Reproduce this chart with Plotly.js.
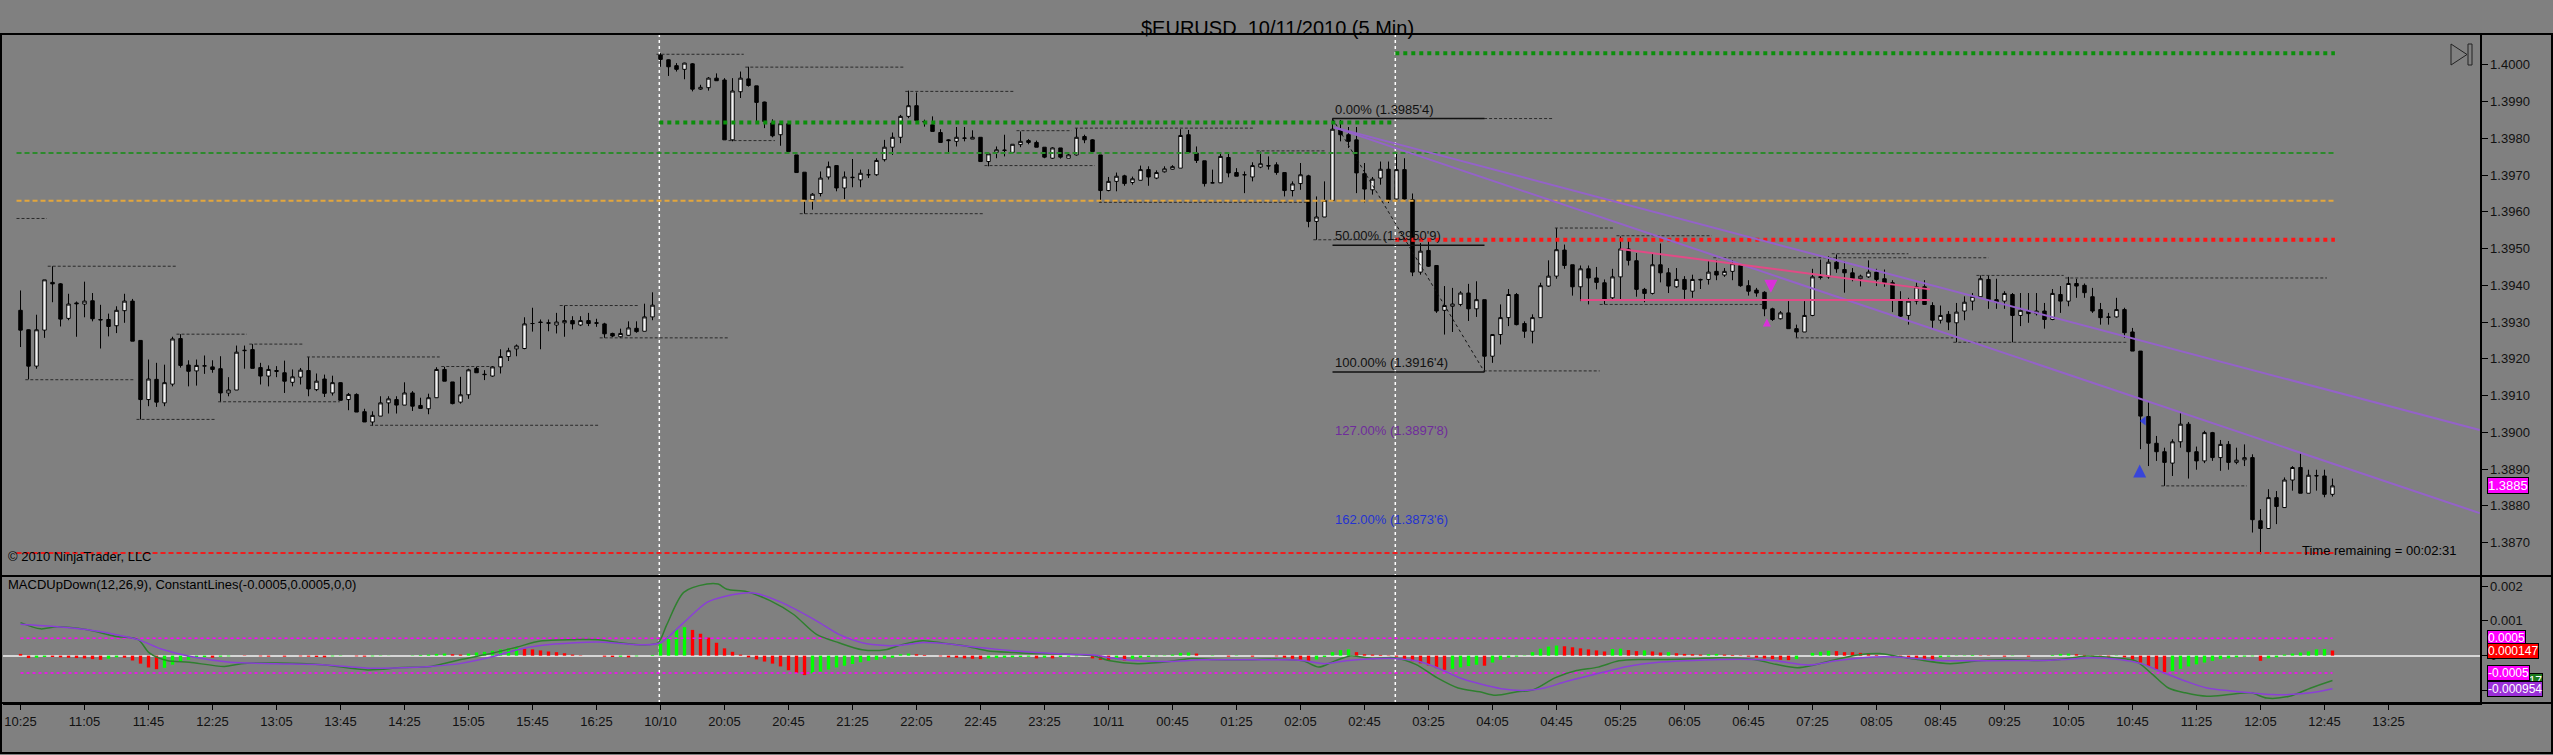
<!DOCTYPE html>
<html>
<head>
<meta charset="utf-8">
<script src="https://cdn.plot.ly/plotly-3.0.1.min.js"></script>
<style>
  html, body { margin: 0; padding: 0; background: #808080; }
  #chart { width: 2553px; height: 755px; }
</style>
</head>
<body>
<div id="chart"></div>
<script>
// EURUSD 5 min bars, bar 0 = 10/8 10:25, bar 80 = first bar of the 10/10 session
const opens = [
  1.39332,1.39279,1.39180,1.39278,1.39408,1.39404,1.39310,1.39352,1.39349,1.39358,
  1.39307,1.39307,1.39290,1.39331,1.39357,1.39250,1.39089,1.39144,1.39080,1.39131,
  1.39255,1.39183,1.39167,1.39180,1.39178,1.39173,1.39107,1.39115,1.39222,1.39225,
  1.39176,1.39153,1.39168,1.39162,1.39136,1.39150,1.39168,1.39116,1.39145,1.39107,
  1.39135,1.39089,1.39103,1.39056,1.39028,1.39044,1.39080,1.39089,1.39074,1.39107,
  1.39073,1.39064,1.39094,1.39171,1.39137,1.39082,1.39102,1.39174,1.39158,1.39153,
  1.39178,1.39206,1.39227,1.39228,1.39296,1.39300,1.39298,1.39292,1.39298,1.39304,
  1.39292,1.39304,1.39298,1.39295,1.39269,1.39260,1.39264,1.39283,1.39275,1.39314,
  1.40027,1.40014,1.39998,1.39988,1.40003,1.39934,1.39938,1.39964,1.39959,1.39796,
  1.39927,1.39962,1.39943,1.39899,1.39842,1.39810,1.39840,1.39755,1.39708,1.39633,
  1.39650,1.39695,1.39726,1.39665,1.39693,1.39687,1.39701,1.39701,1.39742,1.39776,
  1.39803,1.39860,1.39889,1.39846,1.39837,1.39816,1.39796,1.39792,1.39800,1.39798,
  1.39803,1.39737,1.39762,1.39767,1.39762,1.39783,1.39794,1.39789,1.39776,1.39746,
  1.39774,1.39746,1.39755,1.39805,1.39796,1.39755,1.39658,1.39683,1.39698,1.39680,
  1.39686,1.39715,1.39692,1.39709,1.39716,1.39719,1.39810,1.39760,1.39739,1.39679,
  1.39679,1.39748,1.39707,1.39701,1.39695,1.39722,1.39726,1.39728,1.39707,1.39658,
  1.39677,1.39698,1.39574,1.39586,1.39631,1.39823,1.39810,1.39796,1.39704,1.39660,
  1.39692,1.39716,1.39635,1.39715,1.39633,1.39436,1.39495,1.39454,1.39332,1.39343,
  1.39348,1.39379,1.39336,1.39361,1.39207,1.39266,1.39312,1.39375,1.39296,1.39275,
  1.39312,1.39398,1.39425,1.39496,1.39456,1.39396,1.39445,1.39420,1.39407,1.39366,
  1.39423,1.39499,1.39467,1.39389,1.39378,1.39456,1.39434,1.39396,1.39416,1.39384,
  1.39416,1.39416,1.39438,1.39428,1.39438,1.39454,1.39399,1.39387,1.39381,1.39336,
  1.39309,1.39325,1.39282,1.39273,1.39318,1.39423,1.39423,1.39463,1.39443,1.39434,
  1.39418,1.39423,1.39436,1.39418,1.39407,1.39360,1.39318,1.39357,1.39396,1.39345,
  1.39305,1.39321,1.39298,1.39330,1.39357,1.39369,1.39416,1.39361,1.39357,1.39375,
  1.39318,1.39330,1.39323,1.39330,1.39307,1.39375,1.39357,1.39405,1.39400,1.39369,
  1.39334,1.39314,1.39314,1.39334,1.39273,1.39221,1.39043,1.38970,1.38947,1.38916,
  1.38974,1.39022,1.38947,1.38922,1.38999,1.38931,1.38967,1.38918,1.38925,1.38931,
  1.38759,1.38738,1.38822,1.38795,1.38870,1.38904,1.38834,1.38881,1.38881,1.38831
];
const highs = [
  1.39386,1.39280,1.39320,1.39415,1.39452,1.39406,1.39377,1.39356,1.39410,1.39379,
  1.39347,1.39323,1.39343,1.39377,1.39363,1.39250,1.39198,1.39189,1.39184,1.39260,
  1.39267,1.39196,1.39198,1.39209,1.39196,1.39207,1.39150,1.39236,1.39236,1.39240,
  1.39189,1.39182,1.39180,1.39195,1.39171,1.39175,1.39205,1.39160,1.39157,1.39154,
  1.39136,1.39107,1.39106,1.39064,1.39057,1.39098,1.39098,1.39098,1.39136,1.39112,
  1.39094,1.39105,1.39177,1.39178,1.39137,1.39151,1.39173,1.39178,1.39169,1.39180,
  1.39226,1.39230,1.39239,1.39313,1.39339,1.39307,1.39307,1.39325,1.39345,1.39316,
  1.39316,1.39325,1.39309,1.39298,1.39271,1.39282,1.39302,1.39302,1.39350,1.39381,
  1.40032,1.40015,1.40005,1.40006,1.40005,1.39946,1.39967,1.39977,1.39964,1.39964,
  1.39982,1.39995,1.39943,1.39900,1.39852,1.39842,1.39843,1.39755,1.39708,1.39651,
  1.39710,1.39737,1.39726,1.39710,1.39744,1.39715,1.39716,1.39746,1.39796,1.39816,
  1.39864,1.39930,1.39925,1.39851,1.39860,1.39825,1.39798,1.39831,1.39831,1.39822,
  1.39803,1.39760,1.39778,1.39810,1.39784,1.39819,1.39798,1.39794,1.39776,1.39776,
  1.39774,1.39758,1.39828,1.39810,1.39798,1.39755,1.39695,1.39707,1.39701,1.39696,
  1.39726,1.39724,1.39713,1.39724,1.39727,1.39825,1.39823,1.39778,1.39739,1.39715,
  1.39758,1.39760,1.39719,1.39710,1.39735,1.39764,1.39751,1.39735,1.39707,1.39683,
  1.39733,1.39701,1.39642,1.39683,1.39854,1.39850,1.39831,1.39831,1.39733,1.39695,
  1.39737,1.39737,1.39760,1.39746,1.39650,1.39515,1.39520,1.39454,1.39398,1.39393,
  1.39384,1.39404,1.39411,1.39361,1.39266,1.39348,1.39390,1.39379,1.39302,1.39321,
  1.39407,1.39468,1.39556,1.39511,1.39456,1.39454,1.39454,1.39450,1.39416,1.39445,
  1.39533,1.39526,1.39488,1.39393,1.39488,1.39514,1.39447,1.39447,1.39425,1.39429,
  1.39418,1.39468,1.39468,1.39447,1.39468,1.39454,1.39414,1.39393,1.39384,1.39339,
  1.39330,1.39357,1.39293,1.39357,1.39445,1.39470,1.39479,1.39484,1.39466,1.39447,
  1.39429,1.39468,1.39445,1.39443,1.39414,1.39384,1.39366,1.39407,1.39414,1.39354,
  1.39345,1.39330,1.39352,1.39370,1.39379,1.39427,1.39427,1.39418,1.39384,1.39379,
  1.39379,1.39379,1.39379,1.39352,1.39390,1.39398,1.39423,1.39418,1.39405,1.39393,
  1.39352,1.39325,1.39366,1.39339,1.39284,1.39221,1.39085,1.38990,1.38958,1.38981,
  1.39053,1.39028,1.38961,1.39004,1.39001,1.38979,1.38976,1.38958,1.38967,1.38940,
  1.38791,1.38845,1.38840,1.38877,1.38908,1.38946,1.38898,1.38898,1.38898,1.38874
];
const lows = [
  1.39232,1.39144,1.39173,1.39257,1.39354,1.39288,1.39305,1.39260,1.39313,1.39302,
  1.39228,1.39261,1.39270,1.39298,1.39248,1.39035,1.39071,1.39069,1.39071,1.39125,
  1.39176,1.39125,1.39127,1.39159,1.39162,1.39082,1.39098,1.39115,1.39173,1.39174,
  1.39130,1.39125,1.39150,1.39107,1.39125,1.39130,1.39098,1.39112,1.39096,1.39100,
  1.39087,1.39060,1.39055,1.39028,1.39017,1.39044,1.39051,1.39051,1.39074,1.39058,
  1.39065,1.39049,1.39094,1.39139,1.39076,1.39078,1.39091,1.39162,1.39142,1.39151,
  1.39160,1.39194,1.39207,1.39226,1.39274,1.39226,1.39275,1.39269,1.39260,1.39280,
  1.39289,1.39289,1.39287,1.39257,1.39259,1.39257,1.39263,1.39271,1.39275,1.39305,
  1.39995,1.39970,1.39982,1.39961,1.39928,1.39932,1.39930,1.39957,1.39796,1.39792,
  1.39910,1.39941,1.39846,1.39828,1.39803,1.39780,1.39764,1.39707,1.39595,1.39606,
  1.39642,1.39688,1.39656,1.39635,1.39667,1.39667,1.39692,1.39698,1.39737,1.39755,
  1.39787,1.39855,1.39849,1.39832,1.39819,1.39789,1.39762,1.39778,1.39792,1.39798,
  1.39737,1.39724,1.39746,1.39751,1.39760,1.39776,1.39784,1.39776,1.39746,1.39744,
  1.39745,1.39746,1.39753,1.39787,1.39764,1.39626,1.39656,1.39656,1.39671,1.39674,
  1.39686,1.39671,1.39689,1.39707,1.39715,1.39719,1.39758,1.39733,1.39669,1.39678,
  1.39679,1.39694,1.39697,1.39651,1.39683,1.39719,1.39715,1.39701,1.39642,1.39642,
  1.39660,1.39558,1.39524,1.39586,1.39631,1.39792,1.39774,1.39651,1.39626,1.39647,
  1.39674,1.39624,1.39633,1.39633,1.39425,1.39429,1.39450,1.39325,1.39266,1.39273,
  1.39343,1.39303,1.39314,1.39164,1.39189,1.39239,1.39289,1.39291,1.39257,1.39242,
  1.39312,1.39396,1.39418,1.39445,1.39372,1.39357,1.39348,1.39389,1.39348,1.39361,
  1.39361,1.39454,1.39369,1.39354,1.39375,1.39408,1.39379,1.39393,1.39363,1.39366,
  1.39390,1.39402,1.39414,1.39423,1.39414,1.39396,1.39372,1.39369,1.39316,1.39303,
  1.39307,1.39282,1.39257,1.39273,1.39316,1.39416,1.39418,1.39434,1.39380,1.39411,
  1.39397,1.39420,1.39398,1.39396,1.39327,1.39314,1.39293,1.39348,1.39348,1.39284,
  1.39296,1.39278,1.39245,1.39305,1.39332,1.39369,1.39336,1.39336,1.39336,1.39245,
  1.39289,1.39298,1.39318,1.39282,1.39305,1.39325,1.39343,1.39366,1.39366,1.39325,
  1.39293,1.39293,1.39312,1.39257,1.39221,1.38954,1.38908,1.38922,1.38854,1.38881,
  1.38958,1.38874,1.38898,1.38916,1.38922,1.38895,1.38898,1.38913,1.38908,1.38727,
  1.38668,1.38738,1.38750,1.38795,1.38841,1.38834,1.38834,1.38841,1.38823,1.38825
];
const closes = [
  1.39278,1.39180,1.39279,1.39415,1.39404,1.39308,1.39349,1.39350,1.39357,1.39309,
  1.39306,1.39288,1.39332,1.39357,1.39248,1.39089,1.39145,1.39082,1.39135,1.39254,
  1.39182,1.39166,1.39182,1.39181,1.39171,1.39107,1.39115,1.39218,1.39223,1.39174,
  1.39153,1.39171,1.39166,1.39139,1.39151,1.39169,1.39118,1.39139,1.39106,1.39135,
  1.39087,1.39103,1.39055,1.39028,1.39046,1.39080,1.39091,1.39074,1.39107,1.39071,
  1.39065,1.39094,1.39171,1.39139,1.39078,1.39102,1.39170,1.39162,1.39157,1.39178,
  1.39206,1.39222,1.39235,1.39295,1.39296,1.39299,1.39297,1.39300,1.39304,1.39295,
  1.39304,1.39296,1.39297,1.39268,1.39262,1.39269,1.39284,1.39274,1.39314,1.39346,
  1.40015,1.39995,1.39988,1.40005,1.39934,1.39939,1.39964,1.39957,1.39796,1.39929,
  1.39964,1.39944,1.39898,1.39846,1.39807,1.39840,1.39764,1.39707,1.39633,1.39648,
  1.39692,1.39723,1.39665,1.39695,1.39694,1.39705,1.39701,1.39740,1.39776,1.39803,
  1.39860,1.39889,1.39849,1.39845,1.39819,1.39789,1.39794,1.39803,1.39801,1.39803,
  1.39737,1.39758,1.39769,1.39768,1.39784,1.39792,1.39789,1.39776,1.39749,1.39774,
  1.39749,1.39755,1.39803,1.39796,1.39764,1.39658,1.39683,1.39697,1.39677,1.39690,
  1.39715,1.39695,1.39707,1.39717,1.39723,1.39808,1.39762,1.39740,1.39677,1.39679,
  1.39751,1.39706,1.39697,1.39701,1.39726,1.39731,1.39725,1.39707,1.39658,1.39676,
  1.39701,1.39574,1.39586,1.39631,1.39825,1.39810,1.39792,1.39706,1.39662,1.39689,
  1.39716,1.39633,1.39715,1.39635,1.39436,1.39493,1.39452,1.39330,1.39345,1.39349,
  1.39379,1.39336,1.39361,1.39207,1.39266,1.39312,1.39375,1.39293,1.39275,1.39312,
  1.39399,1.39425,1.39497,1.39454,1.39396,1.39445,1.39420,1.39408,1.39361,1.39423,
  1.39499,1.39468,1.39389,1.39378,1.39456,1.39434,1.39398,1.39416,1.39389,1.39416,
  1.39415,1.39436,1.39428,1.39438,1.39459,1.39399,1.39384,1.39379,1.39336,1.39307,
  1.39325,1.39282,1.39273,1.39318,1.39423,1.39422,1.39463,1.39445,1.39434,1.39418,
  1.39425,1.39436,1.39416,1.39407,1.39360,1.39316,1.39357,1.39396,1.39348,1.39305,
  1.39318,1.39300,1.39327,1.39354,1.39370,1.39418,1.39361,1.39354,1.39378,1.39318,
  1.39332,1.39323,1.39330,1.39307,1.39378,1.39357,1.39405,1.39398,1.39380,1.39330,
  1.39312,1.39313,1.39334,1.39271,1.39221,1.39044,1.38970,1.38947,1.38918,1.38974,
  1.39022,1.38947,1.38922,1.38999,1.38931,1.38967,1.38918,1.38924,1.38931,1.38762,
  1.38738,1.38822,1.38798,1.38870,1.38904,1.38834,1.38883,1.38882,1.38831,1.38854
];

// MACD histogram (MACD - avg), one value per bar
const macdHist = [
  0.00005,-0.00007,-0.00006,-0.00004,-0.00004,-0.00005,-0.00006,-0.00007,-0.00008,-0.00010,
  -0.00012,-0.00009,-0.00005,-0.00006,-0.00014,-0.00023,-0.00034,-0.00039,-0.00035,-0.00026,
  -0.00018,-0.00012,-0.00007,-0.00004,-0.00006,-0.00003,-0.00002,0,-0.00001,0,
  -0.00002,-0.00003,0,-0.00003,0,-0.00002,-0.00003,-0.00004,-0.00005,-0.00002,
  -0.00001,0,-0.00002,-0.00003,-0.00002,-0.00001,-0.000005,0,0,0.00001,
  0.00002,0.00003,0.00005,0.00006,0.00004,0.00003,0.00006,0.00009,0.00011,0.00014,
  0.00018,0.00021,0.00022,0.00020,0.00018,0.00015,0.00012,0.00010,0.00007,0.00003,
  0.00001,0,0,-0.00003,-0.00004,-0.00003,-0.00005,-0.00002,0,0.00002,
  0.00035,0.00056,0.00075,0.00082,0.00074,0.00063,0.00052,0.00037,0.00021,0.00011,
  0.00003,-0.00005,-0.00011,-0.00017,-0.00023,-0.00031,-0.00042,-0.00050,-0.00056,-0.00051,
  -0.00046,-0.00040,-0.00034,-0.00029,-0.00024,-0.00019,-0.00015,-0.00012,-0.00009,-0.00006,
  0.00004,0.00006,0.00004,0.00002,0,-0.00002,-0.00005,-0.00006,-0.00008,-0.00009,
  -0.00010,-0.00008,-0.00007,-0.00006,-0.00005,-0.00004,-0.00003,-0.00008,-0.00006,-0.00008,
  -0.00004,-0.00003,-0.00002,-0.00001,-0.00008,-0.00012,-0.00015,-0.00011,-0.00014,-0.00009,
  -0.00006,-0.00004,-0.00002,0.00001,0.00003,0.00008,0.00009,0.00006,0,0.00001,
  0,-0.00003,0.00001,0,-0.00003,0,0,-0.00002,-0.00006,-0.00009,
  -0.00012,-0.00015,-0.00011,-0.00004,0.00010,0.00016,0.00018,0.00010,0.00004,0.00003,
  0.00002,0.00001,-0.00003,-0.00010,-0.00016,-0.00022,-0.00028,-0.00036,-0.00041,-0.00038,
  -0.00034,-0.00030,-0.00026,-0.00029,-0.00020,-0.00012,-0.00006,-0.00003,-0.00001,0.00010,
  0.00020,0.00026,0.00029,0.00027,0.00024,0.00021,0.00018,0.00015,0.00012,0.00019,
  0.00020,0.00016,0.00013,0.00015,0.00012,0.00009,0.00010,0.00007,0.00005,0.00004,
  0.00003,0.00004,0.00005,0.00003,0.00002,0.00001,-0.00003,-0.00006,-0.00008,-0.00010,
  -0.00012,-0.00013,-0.00010,0,0.00008,0.00011,0.00014,0.00013,0.00010,0.00010,
  0.00008,0.00005,0.00002,0,-0.00003,-0.00005,-0.00008,-0.00010,-0.00011,-0.00013,
  -0.00005,-0.00003,-0.00001,0.00001,0.00002,0.00001,-0.00001,0,-0.00003,-0.00001,
  0,-0.00003,0,0,0.00002,0.00005,0.00006,0.00004,0.00002,0.00001,
  -0.00001,-0.00003,-0.00001,-0.00005,-0.00012,-0.00020,-0.00030,-0.00040,-0.00048,-0.00044,
  -0.00038,-0.00031,-0.00025,-0.00020,-0.00015,-0.00010,-0.00008,-0.00005,-0.00003,-0.00002,
  -0.00015,-0.00008,-0.00005,0.00003,0.00006,0.00009,0.00012,0.00018,0.00019,0.000147
];

// MACD line, read at these bar positions
const macdBars = [0,2.5,4.6,8.2,11.8,14.7,16.1,18.3,21.1,25.5,27.6,32,37.7,43.4,47.7,51.3,54.9,59.2,62.1,65,
  69.3,72.2,75,77.9,79.7,80.8,82.9,85.8,87.2,88.3,90.8,93.7,96.6,99.5,102.3,105.2,108.1,110.1,112.8,115.4,
  118.1,120.8,124.1,127.5,130.9,134.2,136.2,139.6,143.6,146.3,148.9,152.9,157,160.3,162.3,164.3,166.3,169,171.7,174.4,
  177.1,179.7,182.4,184.4,187.1,189.1,191.8,194.5,197.2,199.8,202.5,205.9,209.2,212.4,216.7,219.4,222.1,224.2,226.9,229.6,
  232.4,234.4,237.1,241.2,244.7,248.1,252.2,254.9,258.3,261.7,264.4,266.5,268.5,270.6,273.3,276.1,278.8,280.8,283.6,286.3,289];
const macdLine = [0.00095,0.00077,0.00083,0.00075,0.00056,0.00046,0.00008,-0.00014,-0.00019,-0.00031,
  -0.00023,-0.00021,-0.00026,-0.00041,-0.00034,-0.00031,-0.00012,0.00008,0.00025,0.00042,
  0.00046,0.00046,0.00037,0.00031,0.00037,0.00090,0.00182,0.00206,0.00206,0.00191,
  0.00184,0.00158,0.00119,0.00061,0.00037,0.00017,0.00017,0.00031,0.00043,0.00036,
  0.00028,0.00014,0.00009,0.00006,0.00004,-0.00001,-0.00015,-0.00023,-0.00017,-0.00008,
  -0.00011,-0.00012,-0.00010,-0.00015,-0.00033,-0.00015,-0.00001,-0.00008,-0.00006,-0.00025,
  -0.00064,-0.00093,-0.00104,-0.00114,-0.00104,-0.00098,-0.00064,-0.00043,-0.00033,-0.00015,
  -0.00011,-0.00011,-0.00009,-0.00006,-0.00011,-0.00025,-0.00035,-0.00027,-0.00011,0.00002,
  0.00006,-0.00001,-0.00011,-0.00023,-0.00015,-0.00011,-0.00014,-0.00011,-0.00001,-0.00006,
  -0.00015,-0.00054,-0.00093,-0.00107,-0.00117,-0.00112,-0.00107,-0.00122,-0.00117,-0.00093,-0.000717];

// MACD average (signal) line
const avgBars = [0,4.6,8.2,11.8,14.7,17.6,21.1,26.2,32,37.7,43.4,47.7,51.3,54.9,59.2,62.1,65,69.3,72.2,75,
  77.9,80,82.9,85.8,88,91.6,95.1,99.5,102.3,105.2,108.1,110.1,112.8,115.4,118.1,120.8,124.1,127.5,130.9,134.2,
  136.2,139.6,143.6,147.6,152.9,157,160.3,163,165.7,169,171.7,174.4,177.1,179.7,182.4,185.1,187.8,190.5,193.1,195.8,
  198.5,201.2,204.5,207.9,212.4,216.7,219.4,223.5,226.9,230.3,233,235.8,239.9,244,248.1,252.2,255.6,259,262.4,265.1,
  267.9,270.6,273.3,276.1,278.8,281.5,283.6,286.3,289];
const avgLine = [0.00090,0.00083,0.00075,0.00061,0.00046,0.00019,-0.00002,-0.00019,-0.00023,-0.00026,
  -0.00036,-0.00035,-0.00031,-0.00023,-0.00002,0.00017,0.00029,0.00037,0.00039,0.00035,
  0.00031,0.00037,0.00095,0.00153,0.00170,0.00180,0.00153,0.00100,0.00061,0.00037,
  0.00029,0.00030,0.00038,0.00035,0.00028,0.00021,0.00014,0.00008,0.00004,0.00002,
  -0.00006,-0.00015,-0.00017,-0.00012,-0.00012,-0.00012,-0.00014,-0.00023,-0.00015,-0.00009,
  -0.00008,-0.00015,-0.00035,-0.00062,-0.00081,-0.00095,-0.00100,-0.00093,-0.00075,-0.00059,
  -0.00044,-0.00030,-0.00020,-0.00015,-0.00011,-0.00011,-0.00015,-0.00027,-0.00015,-0.00006,
  -0.00003,-0.00006,-0.00014,-0.00015,-0.00014,-0.00014,-0.00011,-0.00006,-0.00011,-0.00023,
  -0.00049,-0.00073,-0.00093,-0.00101,-0.00107,-0.00112,-0.00112,-0.00107,-0.000954];

const tickBars = [0,8,16,24,32,40,48,56,64,72,80,88,96,104,112,120,128,136,144,152,160,168,176,184,192,
  200,208,216,224,232,240,248,256,264,272,280,288,296];
const tickLabels = ['10:25','11:05','11:45','12:25','13:05','13:45','14:25','15:05','15:45','16:25',
  '10/10','20:05','20:45','21:25','22:05','22:45','23:25','10/11','00:45','01:25','02:05','02:45','03:25',
  '04:05','04:45','05:25','06:05','06:45','07:25','08:05','08:45','09:25','10:05','10:45','11:25','12:05',
  '12:45','13:25'];

// session breaks
const sessionBars = [79.85, 171.85];

// horizontal lines drawn on the chart
const levelPrice = [1.39760, 1.39630, 1.38671, 1.39843, 1.40032, 1.39524];
const levelFrom  = [-0.5, -0.5, -0.5, 79.85, 171.85, 171.85];
const levelTo    = [289.3, 289.3, 289.3, 171.85, 289.3, 289.3];

// swing high / low dashes
const swingFrom = [-0.5,3.4,0.6,19.5,14.5,28.6,24.7,35.8,43.7,52.6,67.4,72.4,79.5,90.6,88.5,97.4,110.6,120.5,
  124.5,131.8,134.8,154.5,161.6,164.2,191.8,199.5,197.4,182.9,211.6,221.9,226.4,241.6,244.5,255.6,267.6];
const swingTo = [3.3,19.4,14.3,28.3,24.3,35.4,39.9,52.4,72.4,58.7,77.4,88.4,90.4,110.4,94.3,120.3,124.3,134.3,
  131.4,154.3,160.7,163.2,175,191.5,199.3,211.4,217.9,197.4,246,241.6,236,263.3,255.4,288.3,278.3];
const swingPrice = [1.39582,1.39452,1.39143,1.39267,1.39035,1.39240,1.39083,1.39205,1.39019,1.39179,
  1.39345,1.39257,1.40029,1.39994,1.39794,1.39595,1.39928,1.39726,1.39821,1.39828,
  1.39626,1.39766,1.39524,1.39854,1.39556,1.39535,1.39348,1.39167,1.39475,1.39257,
  1.39486,1.39245,1.39427,1.39420,1.38854];

// fibonacci retracement
const fibBars = [164, 183];
const fibHigh = 1.39854, fibLow = 1.39164;
const fibRatios = [0, 0.5, 1, 1.27, 1.62];

// trend lines
const trendBars = [164.2, 307.4];
const trendUpper = [1.39830, 1.39006];
const trendLower = [1.39830, 1.38780];
const pinkBars = [200, 238.7];
const pinkLine = [1.39499, 1.39389];
const pinkFlatBars = [195, 238.7];
const pinkFlat = 1.39360;

// arrows
const arrowBars = [218.8, 218.3, 264.9, 265.4];
const arrowPrices = [1.39380, 1.39310, 1.38912, 1.39031];

const W = 2553, H = 755;
const px = x => x / W;
const py = y => 1 - y / H;
const FONT = '"Liberation Sans", Arial, sans-serif';

const bars = opens.map((_, i) => i);
const last = bars.length - 1;
const traces = [];

// level lines
const levelStyle = [
  {color: '#2c8a2c', width: 2, dash: '5px,3px'},
  {color: '#e3a63c', width: 2, dash: '5px,3px'},
  {color: '#f01c1c', width: 2, dash: '5px,3px'},
  {color: '#0b8f0b', width: 4, dash: '4px,4px'},
  {color: '#0b8f0b', width: 4, dash: '4px,4px'},
  {color: '#ff1515', width: 4, dash: '4px,4px'}
];
levelPrice.forEach((p, k) => {
  traces.push({type: 'scatter', mode: 'lines', x: [levelFrom[k], levelTo[k]], y: [p, p],
    line: levelStyle[k], hoverinfo: 'skip', xaxis: 'x', yaxis: 'y'});
});

// swing dashes as one trace
const sx = [], sy = [];
swingFrom.forEach((f, k) => { sx.push(f, swingTo[k], null); sy.push(swingPrice[k], swingPrice[k], null); });
traces.push({type: 'scatter', mode: 'lines', x: sx, y: sy, connectgaps: false,
  line: {color: '#2a2a2a', width: 1, dash: '3px,2px'}, hoverinfo: 'skip', xaxis: 'x', yaxis: 'y'});

// candles
traces.push({
  type: 'candlestick', x: bars, open: opens, high: highs, low: lows, close: closes,
  increasing: {line: {color: '#000', width: 1}, fillcolor: '#f2f2f2'},
  decreasing: {line: {color: '#000', width: 1}, fillcolor: '#000'},
  whiskerwidth: 0, hoverinfo: 'skip', xaxis: 'x', yaxis: 'y'
});

// fib lines
const fibPrice = fibRatios.map(r => fibHigh - r * (fibHigh - fibLow));
traces.push({type: 'scatter', mode: 'lines', x: fibBars, y: [fibHigh, fibLow],
  line: {color: '#111', width: 1, dash: '3px,3px'}, hoverinfo: 'skip', xaxis: 'x', yaxis: 'y'});
fibPrice.forEach((p, k) => {
  if (fibRatios[k] > 1) return;
  traces.push({type: 'scatter', mode: 'lines', x: fibBars, y: [p, p],
    line: {color: '#111', width: 1.5}, hoverinfo: 'skip', xaxis: 'x', yaxis: 'y'});
});

// trend lines
traces.push({type: 'scatter', mode: 'lines', x: trendBars, y: trendUpper,
  line: {color: '#9462c9', width: 2}, hoverinfo: 'skip', xaxis: 'x', yaxis: 'y'});
traces.push({type: 'scatter', mode: 'lines', x: trendBars, y: trendLower,
  line: {color: '#9462c9', width: 2}, hoverinfo: 'skip', xaxis: 'x', yaxis: 'y'});
traces.push({type: 'scatter', mode: 'lines', x: pinkBars, y: pinkLine,
  line: {color: '#e24a86', width: 2}, hoverinfo: 'skip', xaxis: 'x', yaxis: 'y'});
traces.push({type: 'scatter', mode: 'lines', x: pinkFlatBars, y: [pinkFlat, pinkFlat],
  line: {color: '#e24a86', width: 2}, hoverinfo: 'skip', xaxis: 'x', yaxis: 'y'});

// arrows
traces.push({type: 'scatter', mode: 'markers', x: arrowBars, y: arrowPrices,
  marker: {symbol: ['arrow-down', 'arrow-up', 'arrow-up', 'triangle-left'], size: [13, 8, 13, 8],
    color: ['#ff10ff', '#ff10ff', '#1a2cff', '#1a2cff'], line: {width: 0}},
  hoverinfo: 'skip', xaxis: 'x', yaxis: 'y'});

// MACD panel
const histColor = macdHist.map((v, i) => (i > 0 && v > macdHist[i - 1]) ? '#00ff00' : '#ff0000');
traces.push({type: 'bar', x: bars, y: macdHist, width: 0.42, marker: {color: histColor, line: {width: 0}},
  hoverinfo: 'skip', xaxis: 'x', yaxis: 'y2'});
[0.0005, -0.0005].forEach(v => traces.push({type: 'scatter', mode: 'lines', x: [0, last], y: [v, v],
  line: {color: '#ff00ff', width: 1.5, dash: 'dot'}, hoverinfo: 'skip', xaxis: 'x', yaxis: 'y2'}));
traces.push({type: 'scatter', mode: 'lines', x: macdBars, y: macdLine,
  line: {color: '#2f7f2f', width: 1.5, shape: 'spline', smoothing: 0.8}, hoverinfo: 'skip', xaxis: 'x', yaxis: 'y2'});
traces.push({type: 'scatter', mode: 'lines', x: avgBars, y: avgLine,
  line: {color: '#8a3fd6', width: 1.5, shape: 'spline', smoothing: 0.8}, hoverinfo: 'skip', xaxis: 'x', yaxis: 'y2'});

// value flags on the price scales
const lastClose = closes[last];
const flags = [
  {y: macdLine[macdLine.length - 1], axis: 'y2', bg: '#1d7a1d', text: macdLine[macdLine.length - 1].toFixed(6), size: 12},
  {y: 0.0005, axis: 'y2', bg: '#ff00ff', text: '0.0005', size: 12},
  {y: macdHist[last], axis: 'y2', bg: '#ff0000', text: macdHist[last].toFixed(6), size: 12},
  {y: -0.0005, axis: 'y2', bg: '#ff00ff', text: '-0.0005', size: 12},
  {y: avgLine[avgLine.length - 1], axis: 'y2', bg: '#9a30d8', text: avgLine[avgLine.length - 1].toFixed(6), size: 12},
  {y: lastClose, axis: 'y', bg: '#ff00ff', text: lastClose.toFixed(4), size: 13}
];
flags.forEach(f => traces.push({type: 'scatter', mode: 'markers', x: [308.1], y: [f.y], cliponaxis: false,
  marker: {symbol: 'triangle-left', size: 10, color: f.bg, line: {color: '#000', width: 1}},
  hoverinfo: 'skip', xaxis: 'x', yaxis: f.axis}));

const annotations = [];
annotations.push({xref: 'paper', yref: 'paper', x: px(1277), y: py(15), showarrow: false,
  text: '$EURUSD\u00a0\u00a010/11/2010 (5 Min)', font: {family: FONT, size: 20, color: '#000'}});
annotations.push({xref: 'paper', yref: 'paper', x: px(6), y: py(566), xanchor: 'left', showarrow: false,
  text: '\u00a9 2010 NinjaTrader, LLC', font: {family: FONT, size: 13, color: '#000'}});
annotations.push({xref: 'paper', yref: 'paper', x: px(6), y: py(594), xanchor: 'left', showarrow: false,
  text: 'MACDUpDown(12,26,9), ConstantLines(-0.0005,0.0005,0,0)', font: {family: FONT, size: 13, color: '#000'}});
annotations.push({xref: 'paper', yref: 'paper', x: px(2300), y: py(560), xanchor: 'left', showarrow: false,
  text: 'Time remaining = 00:02:31', font: {family: FONT, size: 13, color: '#000'}});

const fibColor = ['#111', '#111', '#111', '#6f2c9c', '#2433d0'];
fibPrice.forEach((p, k) => {
  const s = p.toFixed(5);
  annotations.push({xref: 'x', yref: 'y', x: fibBars[0], y: p, xanchor: 'left', yanchor: 'bottom',
    showarrow: false, text: (fibRatios[k] * 100).toFixed(2) + '% (' + s.slice(0, 6) + "'" + s.slice(6) + ')',
    font: {family: FONT, size: 13, color: fibColor[k]}});
});

flags.forEach(f => annotations.push({xref: 'paper', yref: f.axis, x: px(2487), y: f.y, xanchor: 'left',
  showarrow: false, text: f.text, bgcolor: f.bg, bordercolor: '#000', borderwidth: 1, borderpad: 0,
  font: {family: FONT, size: f.size, color: '#fff'}}));

const shapes = [];
sessionBars.forEach(b => shapes.push({type: 'line', xref: 'x', yref: 'paper', x0: b, x1: b,
  y0: py(703), y1: py(34), line: {color: '#ffffff', width: 1.5, dash: 'dot'}, layer: 'below'}));
shapes.push({type: 'rect', xref: 'paper', yref: 'paper', x0: px(1), x1: px(2552), y0: py(753), y1: py(34),
  line: {color: '#000', width: 2}});
shapes.push({type: 'line', xref: 'paper', yref: 'paper', x0: px(1), x1: px(2552), y0: py(576), y1: py(576),
  line: {color: '#000', width: 2}});
shapes.push({type: 'line', xref: 'paper', yref: 'paper', x0: px(1), x1: px(2552), y0: py(703), y1: py(703),
  line: {color: '#000', width: 2}});
// "scroll to end" button
shapes.push({type: 'path', xref: 'paper', yref: 'paper',
  path: `M ${px(2451)},${py(44)} L ${px(2467)},${py(54.5)} L ${px(2451)},${py(65)} Z`,
  line: {color: '#222', width: 1}});
shapes.push({type: 'rect', xref: 'paper', yref: 'paper', x0: px(2468), x1: px(2472), y0: py(65), y1: py(44),
  line: {color: '#222', width: 1}});

const layout = {
  width: W, height: H,
  margin: {l: 0, r: 0, t: 0, b: 0},
  paper_bgcolor: '#808080', plot_bgcolor: '#808080',
  showlegend: false,
  boxgap: 0.38,
  font: {family: FONT, size: 13, color: '#111'},
  xaxis: {
    domain: [px(3), px(2480)], range: [-2.19, 307.44], anchor: 'y2',
    tickmode: 'array', tickvals: tickBars, ticktext: tickLabels,
    ticks: 'outside', ticklen: 5, tickcolor: '#000', tickfont: {family: FONT, size: 13, color: '#111'},
    showline: true, linecolor: '#000', linewidth: 2, showgrid: false, zeroline: false,
    rangeslider: {visible: false}, fixedrange: true
  },
  yaxis: {
    domain: [py(576), py(34)], range: [1.386087, 1.400842], side: 'right', anchor: 'x',
    tick0: 1.387, dtick: 0.001, tickformat: '.4f',
    ticks: 'outside', ticklen: 6, tickcolor: '#000', tickfont: {family: FONT, size: 13, color: '#111'},
    showline: true, linecolor: '#000', linewidth: 1.5, showgrid: false, zeroline: false
  },
  yaxis2: {
    domain: [py(703), py(576)], range: [-0.001362, 0.00229], side: 'right', anchor: 'x',
    tickmode: 'array', tickvals: [-0.001, 0, 0.001, 0.002], ticktext: ['-0.001', '0', '0.001', '0.002'],
    ticks: 'outside', ticklen: 6, tickcolor: '#000', tickfont: {family: FONT, size: 13, color: '#111'},
    showline: true, linecolor: '#000', linewidth: 1.5, showgrid: false,
    zeroline: true, zerolinecolor: '#d6d6d6', zerolinewidth: 2
  },
  annotations: annotations,
  shapes: shapes
};

Plotly.newPlot('chart', traces, layout, {staticPlot: true});
</script>
</body>
</html>
